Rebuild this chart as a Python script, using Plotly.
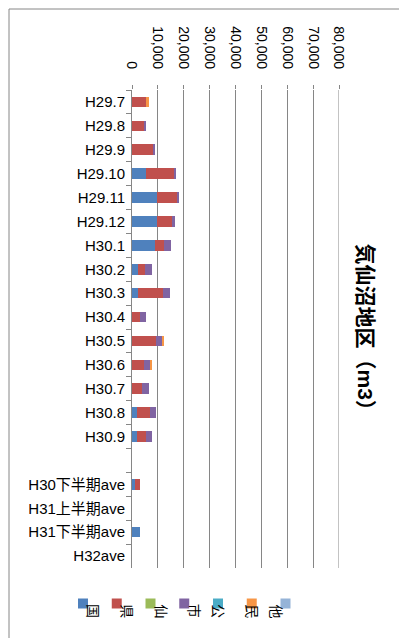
import plotly.graph_objects as go

# データ（気仙沼地区, m3）
categories = ["H29.7", "H29.8", "H29.9", "H29.10", "H29.11", "H29.12",
              "H30.1", "H30.2", "H30.3", "H30.4", "H30.5", "H30.6",
              "H30.7", "H30.8", "H30.9", " ",
              "H30下半期ave", "H31上半期ave", "H31下半期ave", "H32ave"]

kuni = [0, 0, 0, 5600, 9700, 9700, 8900, 2200, 2200, 0, 0, 0, 0, 1800, 1800, None, 1000, None, 3000, None]
ken = [5500, 4700, 8300, 11000, 7800, 5700, 3500, 3000, 9800, 3200, 9400, 4700, 4000, 5300, 3800, None, 1900, None, 0, None]
sen = [0, 0, 0, 0, 0, 0, 0, 0, 0, 0, 0, 0, 0, 0, 0, None, 0, None, 0, None]
shi = [0, 400, 300, 200, 300, 1300, 2700, 2700, 2600, 2400, 2300, 2400, 2400, 2200, 2100, None, 0, None, 0, None]
kou = [0, 0, 0, 0, 0, 0, 0, 0, 0, 0, 0, 0, 0, 0, 0, None, 0, None, 0, None]
min_ = [1000, 0, 0, 0, 0, 0, 0, 0, 0, 0, 500, 500, 0, 0, 0, None, 0, None, 0, None]
ta = [0, 0, 0, 0, 0, 0, 0, 0, 0, 0, 0, 0, 0, 0, 0, None, 0, None, 0, None]

series_names = ["国", "県", "仙", "市", "公", "民", "他"]
series_values = [kuni, ken, sen, shi, kou, min_, ta]
colors = ["#4F81BD", "#C0504D", "#9BBB59", "#8064A2", "#4BACC6", "#F79646", "#95B3D7"]

x_ticks = [0, 10000, 20000, 30000, 40000, 50000, 60000, 70000, 80000]

W, H = 407, 638
L, R, T, B = 124, 76, 82, 78
FONT = "Liberation Sans, Noto Sans CJK JP, sans-serif"
GRID = "#868686"


def px_x(x):
    return (x - L) / (W - L - R)


def px_y(y):
    return (H - B - y) / (H - T - B)


fig = go.Figure()
for name, vals, col in zip(series_names, series_values, colors):
    fig.add_trace(go.Bar(
        y=categories, x=vals, name=name, orientation="h",
        marker=dict(color=col, line=dict(width=0)),
        showlegend=False,
    ))

fig.update_layout(
    width=W, height=H,
    margin=dict(l=L, r=R, t=T, b=B),
    barmode="stack",
    bargap=0.56,
    paper_bgcolor="white",
    plot_bgcolor="white",
    font=dict(family=FONT, color="#000000"),
    xaxis=dict(
        side="top",
        range=[0, 80000],
        tickvals=x_ticks,
        ticktext=[f"{v:,}" for v in x_ticks],
        tickangle=90,
        tickfont=dict(size=14),
        ticks="outside", ticklen=4, tickcolor=GRID,
        ticklabelstandoff=11,
        showgrid=True, gridcolor=GRID, gridwidth=1,
        showline=False, zeroline=False,
        fixedrange=True,
    ),
    yaxis=dict(
        type="category",
        categoryorder="array", categoryarray=categories,
        autorange="reversed",
        tickfont=dict(size=15),
        ticks="outside", ticklen=5, tickcolor=GRID,
        ticklabelstandoff=3,
        tickson="boundaries",
        showline=True, linecolor=GRID, linewidth=1,
        showgrid=False, zeroline=False,
    ),
)

# 右端（80,000）の目盛線
fig.add_shape(
    type="line", xref="x", yref="paper",
    x0=x_ticks[-1], x1=x_ticks[-1], y0=0, y1=1,
    line=dict(color=GRID, width=1), layer="below",
)

# タイトル（縦書き）
fig.add_annotation(
    text="<b>気仙沼地区（m3）</b>", textangle=90,
    xref="paper", yref="paper", x=px_x(371), y=px_y(324),
    showarrow=False, font=dict(size=21, family=FONT),
)

# 凡例（マーカー＋回転した文字）
leg_x0, leg_dx = 75, 33.75
for i, (name, col) in enumerate(zip(series_names, colors)):
    cx = leg_x0 + i * leg_dx
    fig.add_shape(
        type="rect", xref="paper", yref="paper",
        x0=px_x(cx - 5), x1=px_x(cx + 5), y0=px_y(590.5), y1=px_y(600.5),
        fillcolor=col, line=dict(width=0),
    )
    fig.add_annotation(
        text=name, textangle=90,
        xref="paper", yref="paper", x=px_x(cx), y=px_y(612),
        showarrow=False, font=dict(size=14, family=FONT),
    )

# グラフ外枠
fig.add_shape(
    type="rect", xref="paper", yref="paper",
    x0=px_x(1), x1=px_x(402), y0=px_y(1), y1=px_y(637),
    line=dict(color=GRID, width=1), fillcolor="rgba(0,0,0,0)", layer="below",
)

fig.write_html("out.html")
